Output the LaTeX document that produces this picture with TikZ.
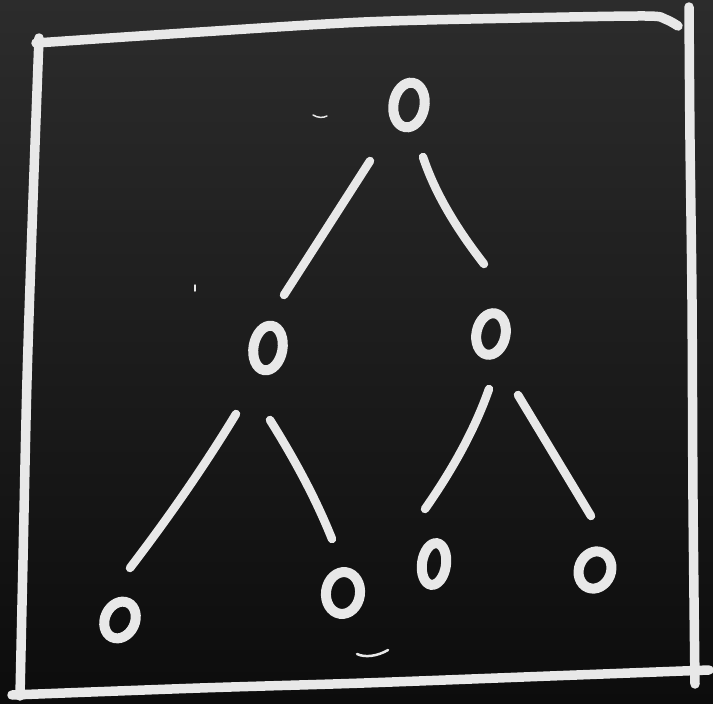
\documentclass[tikz,border=0pt]{standalone}
\usetikzlibrary{shapes.geometric}
\definecolor{chalk}{RGB}{232,232,232}
\definecolor{boardtop}{RGB}{44,44,44}
\definecolor{boardbot}{RGB}{12,12,12}
\begin{document}
\begin{tikzpicture}[x=1pt,y=-1pt,
  oval/.style={ellipse,draw=chalk,line width=10pt,inner sep=0pt},
  edge/.style={draw=chalk,line width=8.5pt,line cap=round},
  frame/.style={draw=chalk,line width=9.5pt,line cap=round,line join=round},
  speck/.style={draw=chalk,line cap=round}]
\shade[top color=boardtop,bottom color=boardbot] (0,0) rectangle (713,704);
\useasboundingbox (0,0) rectangle (713,704);
% frame
\draw[frame] plot[smooth] coordinates {(36,43) (200,32) (364,22) (520,18) (645,16) (665,19) (678,26)};
\draw[frame] plot[smooth] coordinates {(689,7) (690,140) (692,300) (693,500) (695,684)};
\draw[frame] plot[smooth] coordinates {(12,695) (200,688) (364,683) (550,676) (709,670)};
\draw[frame] plot[smooth] coordinates {(39,38) (33,200) (27,380) (23,560) (20,696)};
% nodes
\node[oval,minimum width=31pt,minimum height=45pt,rotate=-10] (root) at (409,105) {};
\node[oval,minimum width=29pt,minimum height=45pt,rotate=-10] (l) at (268,348) {};
\node[oval,minimum width=29pt,minimum height=42pt,rotate=-12] (r) at (491,334) {};
\node[oval,minimum width=30pt,minimum height=38pt,rotate=-25] (ll) at (120,620) {};
\node[oval,minimum width=34pt,minimum height=42pt,rotate=-8] (lr) at (343,593) {};
\node[oval,minimum width=24pt,minimum height=42pt,rotate=-8] (rl) at (434,564) {};
\node[oval,minimum width=32pt,minimum height=38pt,rotate=-22] (rr) at (595,570) {};
% edges
\draw[edge] ([shift={(-39,56)}]root.center) -- ([shift={(16,-53)}]l.center);
\draw[edge] ([shift={(14,52)}]root.center) .. controls ([shift={(26,88)}]root.center) and ([shift={(47,123)}]root.center) .. ([shift={(-7,-70)}]r.center);
\draw[edge] ([shift={(-32,66)}]l.center) .. controls ([shift={(-63,117)}]l.center) and ([shift={(-99,169)}]l.center) .. ([shift={(10,-52)}]ll.center);
\draw[edge] ([shift={(2,72)}]l.center) .. controls ([shift={(27,112)}]l.center) and ([shift={(48,151)}]l.center) .. ([shift={(-11,-54)}]lr.center);
\draw[edge] ([shift={(-2,55)}]r.center) .. controls ([shift={(-16,95)}]r.center) and ([shift={(-38,135)}]r.center) .. ([shift={(-9,-55)}]rl.center);
\draw[edge] ([shift={(27,61)}]r.center) -- ([shift={(-4,-54)}]rr.center);
% chalk specks
\draw[speck,line width=2.5pt] (357,654) .. controls (365,658) and (378,656) .. (388,650);
\draw[speck,line width=1.5pt] (313,115) .. controls (318,118) and (323,118) .. (327,116);
\draw[speck,line width=1.5pt] (195,285) -- (195,291);
\end{tikzpicture}
\end{document}
